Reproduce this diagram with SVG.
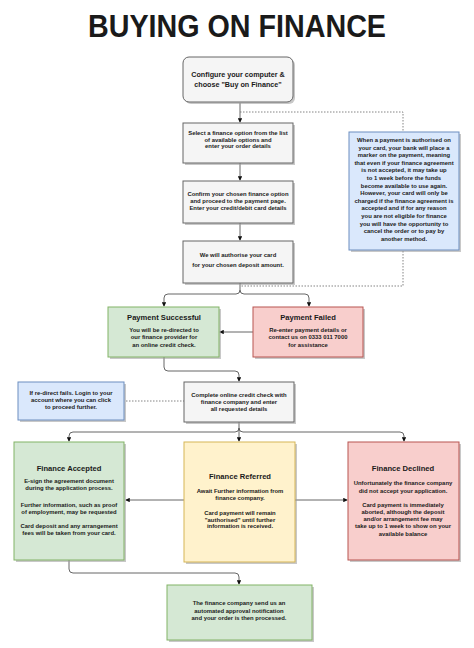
<svg xmlns="http://www.w3.org/2000/svg" width="474" height="648" viewBox="0 0 474 648">
<style>
text{font-family:"Liberation Sans",Arial,sans-serif;font-weight:bold;fill:#1a1a1a;text-anchor:middle}
.t{font-size:5.9px}
.h{font-size:7.6px}
.sh{fill:#9a9a9a;opacity:0.55}
.gray{fill:#f5f5f5;stroke:#666;stroke-width:1}
.green{fill:#d5e8d4;stroke:#82b366;stroke-width:1}
.red{fill:#f8cecc;stroke:#b85450;stroke-width:1}
.yel{fill:#fff2cc;stroke:#d6b656;stroke-width:1}
.blue{fill:#dae8fc;stroke:#6c8ebf;stroke-width:1}
.c{fill:none;stroke:#555;stroke-width:0.9}
.d{fill:none;stroke:#777;stroke-width:0.9;stroke-dasharray:1.5 1.5}
</style>
<defs>
<marker id="a" viewBox="0 0 6 6" refX="5" refY="3" markerWidth="5" markerHeight="5" orient="auto">
<path d="M0,0 L6,3 L0,6 Z" fill="#111"/>
</marker>
</defs>
<rect width="474" height="648" fill="#fff"/>
<text x="237" y="37" style="font-size:32px" textLength="298" lengthAdjust="spacingAndGlyphs">BUYING ON FINANCE</text>

<g id="connectors">
<path class="c" d="M240,103 V122" marker-end="url(#a)"/>
<path class="c" d="M240,163 V180" marker-end="url(#a)"/>
<path class="c" d="M240,223 V240" marker-end="url(#a)"/>
<path class="d" d="M240,112 H403 V132"/>
<path class="d" d="M403,251 V286 H240"/>
<path class="c" d="M240,283 V290 Q240,294 236,294 H168 Q164,294 164,298 V306" marker-end="url(#a)"/>
<path class="c" d="M240,290 Q240,294 244,294 H305 Q309,294 309,298 V306" marker-end="url(#a)"/>
<path class="c" d="M253,332 H220" marker-end="url(#a)"/>
<path class="c" d="M164,357 V367 Q164,371 168,371 H235 Q239,371 239,375 V381" marker-end="url(#a)"/>
<path class="d" d="M126,401 H184"/>
<path class="c" d="M239,422 V428 Q239,432 235,432 H73 Q69,432 69,436 V441" marker-end="url(#a)"/>
<path class="c" d="M239,428 V441" marker-end="url(#a)"/>
<path class="c" d="M239,428 Q239,432 243,432 H400 Q404,432 404,436 V441" marker-end="url(#a)"/>
<path class="c" d="M184,500 H126" marker-end="url(#a)"/>
<path class="c" d="M295,500 H347" marker-end="url(#a)"/>
<path class="c" d="M69,560 V569 Q69,573 73,573 H235 Q239,573 239,577 V584" marker-end="url(#a)"/>
</g>

<g id="n1">
<rect class="sh" x="185" y="59" width="110" height="45" rx="6"/>
<rect class="gray" x="183" y="57" width="110" height="45" rx="6"/>
<text class="h" style="font-size:7.2px" x="238" y="76.5">Configure your computer &amp;</text>
<text class="h" style="font-size:7.2px" x="238" y="87">choose "Buy on Finance"</text>
</g>
<g id="n2">
<rect class="sh" x="185" y="125" width="110" height="40"/>
<rect class="gray" x="183" y="123" width="110" height="40"/>
<text class="t" x="238" y="135">Select a finance option from the list</text>
<text class="t" x="238" y="141.5">of available options and</text>
<text class="t" x="238" y="148">enter your order details</text>
</g>
<g id="n3">
<rect class="sh" x="185" y="183" width="110" height="42"/>
<rect class="gray" x="183" y="181" width="110" height="42"/>
<text class="t" x="238" y="196">Confirm your chosen finance option</text>
<text class="t" x="238" y="203">and proceed to the payment page.</text>
<text class="t" x="238" y="210">Enter your credit/debit card details</text>
</g>
<g id="n4">
<rect class="sh" x="185" y="243" width="110" height="42"/>
<rect class="gray" x="183" y="241" width="110" height="42"/>
<text class="t" x="238" y="257">We will authorise your card</text>
<text class="t" x="238" y="267">for your chosen deposit amount.</text>
</g>
<g id="note">
<rect class="sh" x="351" y="134" width="110" height="118"/>
<rect class="blue" x="349" y="132" width="110" height="118"/>
<text class="t" x="404" y="142">When a payment is authorised on</text>
<text class="t" x="404" y="149.6">your card, your bank will place a</text>
<text class="t" x="404" y="157.2">marker on the payment, meaning</text>
<text class="t" x="404" y="164.8">that even if your finance agreement</text>
<text class="t" x="404" y="172.4">is not accepted, it may take up</text>
<text class="t" x="404" y="180">to 1 week  before the funds</text>
<text class="t" x="404" y="187.6">become available to use again.</text>
<text class="t" x="404" y="195.2">However, your card will only be</text>
<text class="t" x="404" y="202.8">charged if the finance agreement is</text>
<text class="t" x="404" y="210.4">accepted and if for any reason</text>
<text class="t" x="404" y="218">you are not eligible for finance</text>
<text class="t" x="404" y="225.6">you will have the opportunity to</text>
<text class="t" x="404" y="233.2">cancel the order  or to pay by</text>
<text class="t" x="404" y="240.8">another method.</text>
</g>
<g id="success">
<rect class="sh" x="110" y="309" width="111" height="50"/>
<rect class="green" x="108" y="307" width="111" height="50"/>
<text class="h" x="164" y="319.5">Payment Successful</text>
<text class="t" x="164" y="332">You will be re-directed to</text>
<text class="t" x="164" y="339.3">our finance provider for</text>
<text class="t" x="164" y="346.6">an online credit check.</text>
</g>
<g id="failed">
<rect class="sh" x="255" y="309" width="110" height="50"/>
<rect class="red" x="253" y="307" width="110" height="50"/>
<text class="h" x="308" y="319.5">Payment Failed</text>
<text class="t" x="308" y="332">Re-enter payment details or</text>
<text class="t" x="308" y="339.3">contact us on 0333 011 7000</text>
<text class="t" x="308" y="346.6">for assistance</text>
</g>
<g id="redirect">
<rect class="sh" x="20" y="384" width="106" height="38"/>
<rect class="blue" x="18" y="382" width="106" height="38"/>
<text class="t" x="71" y="395">If re-direct fails. Login to your</text>
<text class="t" x="71" y="402">account where you can click</text>
<text class="t" x="71" y="409">to proceed further.</text>
</g>
<g id="n5">
<rect class="sh" x="186" y="384" width="110" height="40"/>
<rect class="gray" x="184" y="382" width="110" height="40"/>
<text class="t" x="239" y="397">Complete online credit check with</text>
<text class="t" x="239" y="404">finance company and enter</text>
<text class="t" x="239" y="411">all requested details</text>
</g>
<g id="accepted">
<rect class="sh" x="16" y="444" width="110" height="118"/>
<rect class="green" x="14" y="442" width="110" height="118"/>
<text class="h" x="69" y="470.5">Finance Accepted</text>
<text class="t" x="69" y="483">E-sign the agreement document</text>
<text class="t" x="69" y="490">during the application process.</text>
<text class="t" x="69" y="507">Further information, such as proof</text>
<text class="t" x="69" y="514">of employment, may be requested</text>
<text class="t" x="69" y="528">Card deposit and any arrangement</text>
<text class="t" x="69" y="535">fees will be taken from your card.</text>
</g>
<g id="referred">
<rect class="sh" x="186" y="444" width="111" height="120"/>
<rect class="yel" x="184" y="442" width="111" height="120"/>
<text class="h" x="240" y="478.5">Finance Referred</text>
<text class="t" x="240" y="493">Await Further information from</text>
<text class="t" x="240" y="500">finance company.</text>
<text class="t" x="240" y="515">Card payment will remain</text>
<text class="t" x="240" y="521.5">"authorised" until further</text>
<text class="t" x="240" y="528">information is received.</text>
</g>
<g id="declined">
<rect class="sh" x="350" y="444" width="111" height="118"/>
<rect class="red" x="348" y="442" width="111" height="118"/>
<text class="h" x="403" y="470.5">Finance Declined</text>
<text class="t" x="403" y="485">Unfortunately the finance company</text>
<text class="t" x="403" y="492.5">did not accept your application.</text>
<text class="t" x="403" y="507">Card payment is immediately</text>
<text class="t" x="403" y="514">aborted, although the deposit</text>
<text class="t" x="403" y="521">and/or arrangement fee may</text>
<text class="t" x="403" y="528">take up to 1 week to show on your</text>
<text class="t" x="403" y="535.5">available balance</text>
</g>
<g id="final">
<rect class="sh" x="169" y="587" width="145" height="55"/>
<rect class="green" x="167" y="585" width="145" height="55"/>
<text class="t" x="239" y="605">The finance company send us an</text>
<text class="t" x="239" y="612.5">automated approval notification</text>
<text class="t" x="239" y="620">and your order is then processed.</text>
</g>
</svg>
